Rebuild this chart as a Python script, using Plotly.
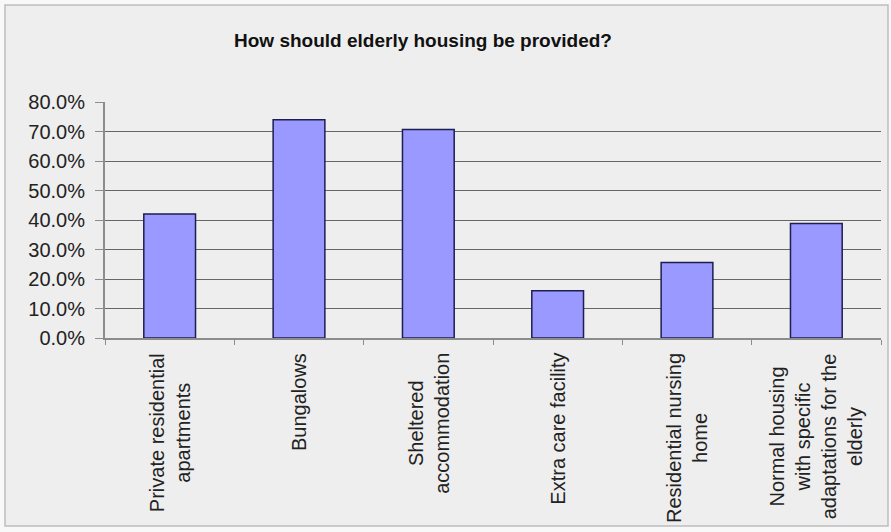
import plotly.graph_objects as go

categories = [
    "Private residential<br>apartments",
    "Bungalows",
    "Sheltered<br>accommodation",
    "Extra care facility",
    "Residential nursing<br>home",
    "Normal housing<br>with specific<br>adaptations for the<br>elderly",
]
values = [0.42, 0.74, 0.707, 0.16, 0.256, 0.388]
title_text = "How should elderly housing be provided?"

W, H = 891, 532
L, R, T, B = 105, 10, 102, 194
pw = W - L - R
ph = H - T - B

FONT = "Arial, 'Liberation Sans', sans-serif"

fig = go.Figure(
    go.Bar(
        x=categories,
        y=values,
        marker=dict(color="#9999FF", line=dict(color="#1E1E50", width=1.5)),
        width=0.4,
    )
)

def px_x(p):
    return (p - L) / pw

def px_y(p):
    return (H - B - p) / ph

# outer chart-area frame
fig.add_shape(
    type="rect", xref="paper", yref="paper",
    x0=px_x(5), x1=px_x(888), y0=px_y(526), y1=px_y(5),
    fillcolor="#EEEEEE", line=dict(color="#BDBDBD", width=1.5), layer="below",
)

# category labels, rotated, lines centred
for c in categories:
    fig.add_annotation(
        x=c, xref="x", y=px_y(351), yref="paper",
        text=c, textangle=-90, showarrow=False,
        xanchor="center", yanchor="top", align="center",
        font=dict(family=FONT, size=20, color="#222222"),
    )

fig.update_layout(
    width=W, height=H,
    margin=dict(l=L, r=R, t=T, b=B, pad=0),
    paper_bgcolor="#F8F8F8",
    plot_bgcolor="rgba(0,0,0,0)",
    showlegend=False,
    font=dict(family=FONT, color="#111111", size=19),
    title=dict(
        text="<b>" + title_text + "</b>",
        x=423 / W, xanchor="center", xref="container",
        y=1 - 40 / H, yanchor="middle",
        font=dict(family=FONT, size=19, color="#111111"),
    ),
    bargap=0.6,
)

fig.update_yaxes(
    range=[0, 0.8],
    dtick=0.1,
    tickformat=".1%",
    showgrid=True, gridcolor="#666666", gridwidth=1,
    showline=True, linecolor="#8C8C8C", linewidth=2,
    ticks="outside", ticklen=8, tickcolor="#8C8C8C",
    ticklabelstandoff=6,
    tickfont=dict(family=FONT, size=20, color="#222222"),
    zeroline=False,
)
fig.update_xaxes(
    showline=True, linecolor="#8C8C8C", linewidth=2,
    ticks="outside", ticklen=5, tickcolor="#8C8C8C",
    tickson="boundaries",
    showticklabels=False,
)

fig.write_html("out.html")
